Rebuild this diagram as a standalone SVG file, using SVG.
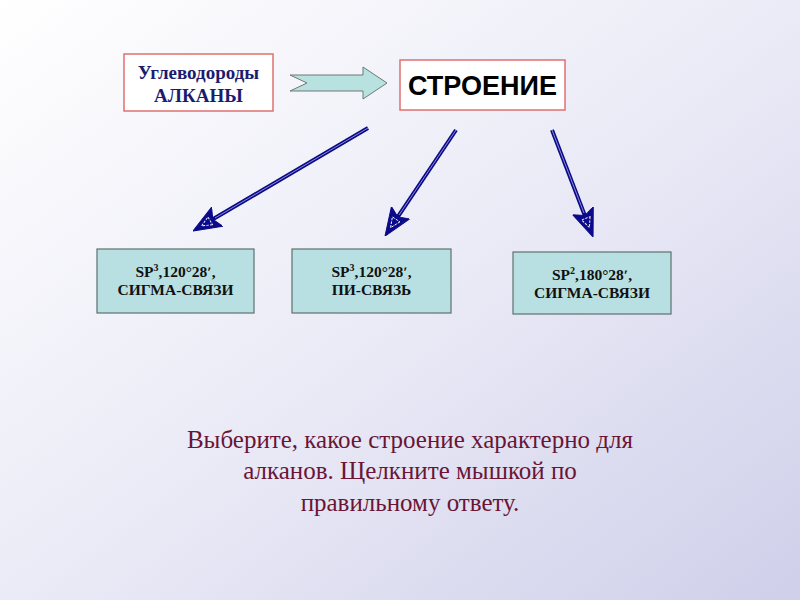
<svg xmlns="http://www.w3.org/2000/svg" width="800" height="600" viewBox="0 0 800 600">
<defs>
<linearGradient id="bg" x1="0" y1="0" x2="1" y2="1">
<stop offset="0" stop-color="#ffffff"/>
<stop offset="0.5" stop-color="#ebebf7"/>
<stop offset="1" stop-color="#cfcfea"/>
</linearGradient>
<marker id="head" viewBox="0 0 28 24" refX="5" refY="12" markerWidth="28" markerHeight="24" markerUnits="userSpaceOnUse" orient="auto">
<path d="M0,1 L28,12 L0,23 L5,12 Z" fill="#0a0a8a" stroke="#0a0a8a" stroke-width="1"/>
<path d="M8,7.5 L18,12 L8,16.5 Z" fill="none" stroke="#ffffff" stroke-width="0.9" stroke-dasharray="2.5,1.2"/>
</marker>
<style>
.top{fill:#ffffff;stroke:#e07070;stroke-width:1.5}
.ans{fill:#b8e0e2;stroke:#5f6f70;stroke-width:1.2}
.t1{font-family:"Liberation Serif",serif;font-weight:bold;font-size:19px;fill:#1c1c6e;text-anchor:middle}
.t2{font-family:"Liberation Sans",sans-serif;font-weight:bold;font-size:27px;fill:#000;text-anchor:middle}
.ta{font-family:"Liberation Serif",serif;font-weight:bold;font-size:15.5px;fill:#111;text-anchor:middle}
.tb{font-family:"Liberation Serif",serif;font-size:25px;fill:#6a1535;text-anchor:middle}
.ln{stroke:#0a0a8a;stroke-width:4;fill:none}
.lc{stroke:#8a8ad0;stroke-width:1;fill:none}
</style>
</defs>
<rect width="800" height="600" fill="url(#bg)"/>
<g id="alkany">
<rect class="top" x="124" y="54" width="149" height="57"/>
<text class="t1" x="198.5" y="79">Углеводороды</text>
<text class="t1" x="198.5" y="102">АЛКАНЫ</text>
</g>
<g id="big-arrow">
<path d="M290,75 L363,75 L363,67 L387,83 L363,99 L363,91 L290,91 L307,83 Z" fill="#b8e2e0" stroke="#707878" stroke-width="1"/>
</g>
<g id="stroenie">
<rect class="top" x="400" y="60" width="165" height="50"/>
<text class="t2" x="482.5" y="95">СТРОЕНИЕ</text>
</g>
<g id="connectors">
<line class="ln" x1="368" y1="128" x2="212.8" y2="219.3" marker-end="url(#head)"/>
<line class="lc" x1="368" y1="128" x2="215" y2="218"/>
<line class="ln" x1="456" y1="130" x2="397.8" y2="216.9" marker-end="url(#head)"/>
<line class="lc" x1="456" y1="130" x2="399" y2="215"/>
<line class="ln" x1="552" y1="130" x2="584.8" y2="215.5" marker-end="url(#head)"/>
<line class="lc" x1="552" y1="130" x2="584" y2="213"/>
</g>
<g id="answer1">
<rect class="ans" x="97" y="249" width="157" height="64"/>
<text class="ta" x="175.5" y="277">SP<tspan font-size="10" dy="-6">3</tspan><tspan dy="6">,120°28ʹ,</tspan></text>
<text class="ta" x="175.5" y="295">СИГМА-СВЯЗИ</text>
</g>
<g id="answer2">
<rect class="ans" x="292" y="249" width="159" height="64"/>
<text class="ta" x="371.5" y="277">SP<tspan font-size="10" dy="-6">3</tspan><tspan dy="6">,120°28ʹ,</tspan></text>
<text class="ta" x="371.5" y="295">ПИ-СВЯЗЬ</text>
</g>
<g id="answer3">
<rect class="ans" x="513" y="252" width="158" height="62"/>
<text class="ta" x="592" y="280">SP<tspan font-size="10" dy="-6">2</tspan><tspan dy="6">,180°28ʹ,</tspan></text>
<text class="ta" x="592" y="298">СИГМА-СВЯЗИ</text>
</g>
<g id="caption">
<text class="tb" x="410" y="448">Выберите, какое строение характерно для</text>
<text class="tb" x="410" y="479">алканов. Щелкните мышкой по</text>
<text class="tb" x="410" y="511">правильному ответу.</text>
</g>
</svg>
